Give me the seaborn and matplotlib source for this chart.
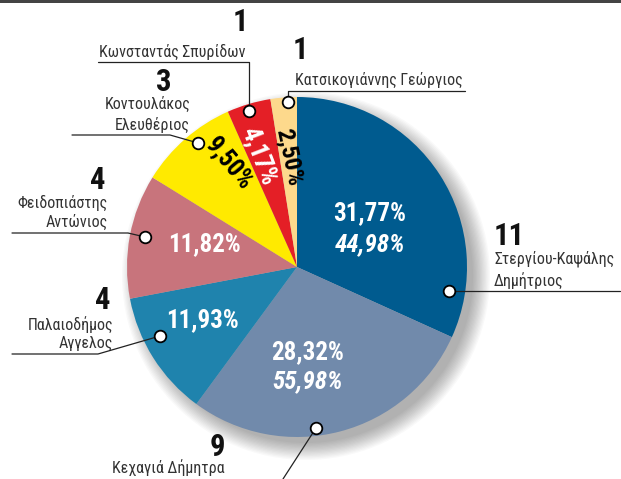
import matplotlib
matplotlib.use("Agg")
import matplotlib.pyplot as plt
import seaborn as sns
from matplotlib.patches import Circle, Rectangle

# ---------------- data ----------------
candidates = ["Στεργίου-Καψάλης Δημήτριος", "Κεχαγιά Δήμητρα", "Παλαιοδήμος Αγγελος",
              "Φειδοπιάστης Αντώνιος", "Κοντουλάκος Ελευθέριος", "Κωνσταντάς Σπυρίδων",
              "Κατσικογιάννης Γεώργιος"]
shares = [31.77, 28.32, 11.93, 11.82, 9.50, 4.17, 2.50]
runoff = ["44,98%", "55,98%", None, None, None, None, None]
seats = [11, 9, 4, 4, 3, 1, 1]
pct_labels = ["31,77%", "28,32%", "11,93%", "11,82%", "9,50%", "4,17%", "2,50%"]
colors = ["#005b8f", "#718aab", "#1f83ad", "#c8747c", "#ffea00", "#e41f26", "#fdd98c"]

sns.set_theme(style="white")
FONT = ["Roboto Condensed", "DejaVu Sans"]
plt.rcParams["font.family"] = FONT

W, H = 621, 479
fig = plt.figure(figsize=(W / 100, H / 100), dpi=100)
ax = fig.add_axes([0, 0, 1, 1])

def Y(py):
    return H - py

CX, CY, R = 297, 267, 170

# soft shadow
for i in range(14):
    ax.add_patch(Circle((CX + 9, Y(CY + 9)), R + 14 - i * 1.3, color="black",
                        alpha=0.025, lw=0, zorder=1))

ax.pie(shares, colors=colors, startangle=90, counterclock=False,
       center=(CX, Y(CY)), radius=R, wedgeprops=dict(linewidth=0, zorder=2))
ax.set_xlim(0, W)
ax.set_ylim(0, H)
ax.set_aspect("auto")
ax.axis("off")

# top border
ax.add_patch(Rectangle((0, Y(3)), W, 3, color="#444444", lw=0, zorder=5))

# percentage labels inside
pct_pos = [(370, 213, 0, "white"), (308, 352, 0, "white"), (202, 320, 0, "white"),
           (205, 244, 0, "white"), (229, 163, -50, "black"), (259, 156, -69, "white"),
           (289, 157, -78, "black")]
pct_size = [18, 18, 18, 18, 18, 18, 17.5]
for lab, (x, y, rot, c), fs in zip(pct_labels, pct_pos, pct_size):
    ax.text(x, Y(y), lab, ha="center", va="center", rotation=rot,
            rotation_mode="anchor", color=c, fontsize=fs, fontweight="bold", zorder=6)
run_pos = [(370, 244), (308, 381)]
for lab, (x, y) in zip([r for r in runoff if r], run_pos):
    ax.text(x, Y(y), lab, ha="center", va="center", color="white", fontsize=18,
            fontweight="bold", fontstyle="italic", zorder=6)

# outside labels
lc = "#222222"
def line(pts):
    ax.plot([p[0] for p in pts], [Y(p[1]) for p in pts], color=lc, lw=0.9, zorder=7)
def dot(x, y):
    ax.scatter([x], [Y(y)], s=70, facecolor="white", edgecolor="black", lw=1.3, zorder=8)
def big(x, y, s, ha="center"):
    ax.text(x, Y(y), s, ha=ha, va="center", fontsize=22, fontweight="bold",
            color="#111111", zorder=7)
def name(x, y, s, ha="center"):
    ax.text(x, Y(y), s, ha=ha, va="center", fontsize=11.5, color="#333333", zorder=7)

# Stergiou-Kapsalis
big(494, 236, str(seats[0]), ha="left")
name(494, 259, "Στεργίου-Καψάλης", ha="left")
name(494, 281, "Δημήτριος", ha="left")
line([(449, 291), (620, 291)])
dot(449, 291)

# Kechagia
big(217, 447, str(seats[1]))
name(168, 468, "Κεχαγιά Δήμητρα")
line([(316, 428), (283, 479)])
dot(316, 428)

# Palaiodimos
big(103, 300, str(seats[2]))
name(113, 325, "Παλαιοδήμος", ha="right")
name(113, 343, "Αγγελος", ha="right")
line([(12, 354), (98, 354), (160, 336)])
dot(160, 336)

# Feidopiastis
big(98, 180, str(seats[3]))
name(108, 203, "Φειδοπιάστης", ha="right")
name(108, 222, "Αντώνιος", ha="right")
line([(12, 233), (128, 233), (145, 237)])
dot(145, 237)

# Kontoulakos
big(164, 82, str(seats[4]))
name(190, 104, "Κοντουλάκος", ha="right")
name(190, 125, "Ελευθέριος", ha="right")
line([(72, 135), (170, 135), (198, 143)])
dot(198, 143)

# Konstantas
big(240, 22, str(seats[5]))
name(172, 52, "Κωνσταντάς Σπυρίδων")
line([(98, 62), (249, 62), (249, 111)])
dot(249, 111)

# Katsikogiannis
big(300, 50, str(seats[6]))
name(379, 80, "Κατσικογιάννης Γεώργιος")
line([(465, 91), (288, 91), (288, 102)])
dot(288, 102)

fig.savefig("out.png", dpi=100)
